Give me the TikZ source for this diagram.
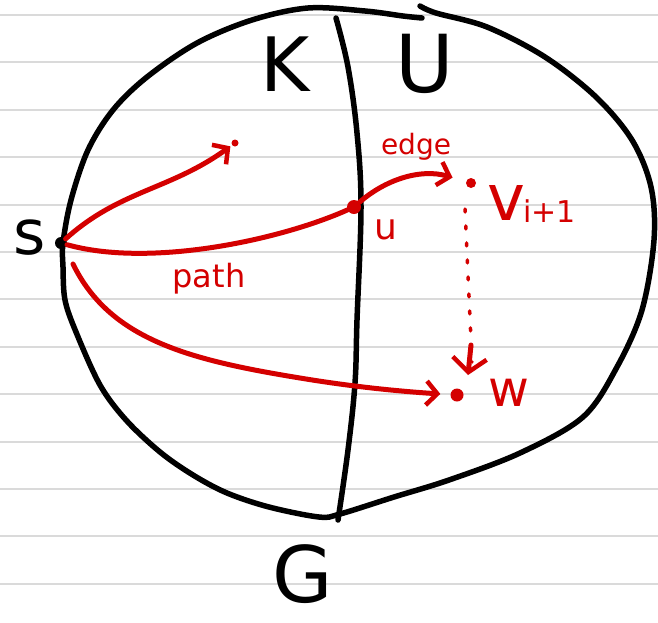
\documentclass[tikz,border=0pt]{standalone}
\usepackage{fontspec}
\setmainfont{DejaVu Sans}
\usetikzlibrary{arrows.meta}
\definecolor{ink}{RGB}{0,0,0}
\definecolor{redink}{RGB}{212,0,0}
\definecolor{ruleline}{RGB}{218,218,218}
\begin{document}
\begin{tikzpicture}[x=1pt,y=-1pt,
  blackline/.style={draw=ink,line width=5.5pt,line cap=round,line join=round},
  redline/.style={draw=redink,line width=5pt,line cap=round,line join=round},
  redarrow/.style={redline,-{Straight Barb[length=11pt,width=24pt,line width=4.5pt]}},
  dotline/.style={draw=redink,line width=3.5pt,line cap=round,dash pattern=on 3pt off 14pt},
  blackdot/.style={circle,fill=ink,inner sep=0pt,minimum size=12pt},
  reddot/.style={circle,fill=redink,inner sep=0pt,minimum size=#1},
  blacklabel/.style={text=ink,inner sep=0pt},
  redlabel/.style={text=redink,inner sep=0pt}]
\useasboundingbox (0,0) rectangle (658,622);
\fill[white] (0,0) rectangle (658,622);
% lined paper
\foreach \k in {0,...,12} \draw[ruleline,line width=2pt] (0,{15+47.4*\k}) -- (658,{15+47.4*\k});
% outer region G
\draw[blackline] plot[smooth,tension=0.55] coordinates {(422,18) (403,16) (365,11) (308,8) (252,20) (197,43) (147,77) (113,110) (88,150) (71,200) (63,243) (63,267) (65,300) (76,332) (100,385) (126,420) (160,452) (193,475) (227,493) (269,507) (319,517) (340,514) (394,497) (449,480) (520,453) (583,417) (617,367) (642,310) (654,240) (651,187) (632,140) (596,97) (545,57) (487,27) (436,13) (420,6)};
% K / U boundary
\draw[blackline] plot[smooth,tension=0.6] coordinates {(336,18) (348,67) (357,133) (361,207) (357,320) (355,383) (348,450) (338,520)};
% named points
\node[blackdot] (s) at (61,243) {};
\node[reddot=14pt] (u) at (354,207) {};
\node[reddot=10pt] (v) at (471,183) {};
\node[reddot=13pt] (w) at (457,395) {};
\node[reddot=7pt] (t) at (235,143) {};
\coordinate (s2) at (73,264);
% red paths
\draw[redarrow,shorten >=2pt] (s) .. controls (120,190) and (170,190) .. (t);
\draw[redline] (s) .. controls (150,268) and (280,240) .. (u);
\draw[redarrow,shorten >=14pt] (u) .. controls (385,180) and (420,168) .. (v);
\draw[redarrow,shorten >=10pt] (s2) .. controls (110,340) and (190,360) .. (300,378) .. controls (360,388) and (410,392) .. (w);
\draw[dotline] (v) ++(-6,26) -- (472,362);
\draw[redline,-{Straight Barb[length=14pt,width=34pt,line width=4.5pt]}] (471,345) -- (468,375);
% labels
\node[blacklabel] (ls) at (30,238) {\fontsize{62}{62}\selectfont s};
\node[blacklabel] (lk) at (285,64) {\fontsize{75}{75}\selectfont K};
\node[blacklabel] (lu) at (425,64) {\fontsize{80}{80}\selectfont U};
\node[blacklabel] (lg) at (303,574) {\fontsize{78}{78}\selectfont G};
\node[redlabel] (lsu) at (386,230) {\fontsize{36}{36}\selectfont u};
\node[redlabel,anchor=base west] (lv) at (487,220) {\fontsize{64}{64}\selectfont v\kern-2pt\raisebox{-2pt}{\fontsize{30}{30}\selectfont i+1}};
\node[redlabel] (lw) at (509,393) {\fontsize{50}{50}\selectfont w};
\node[redlabel] (le) at (416,147) {\fontsize{28}{28}\selectfont edge};
\node[redlabel,anchor=base] (lp) at (209,287) {\fontsize{32}{32}\selectfont path};
\end{tikzpicture}
\end{document}
